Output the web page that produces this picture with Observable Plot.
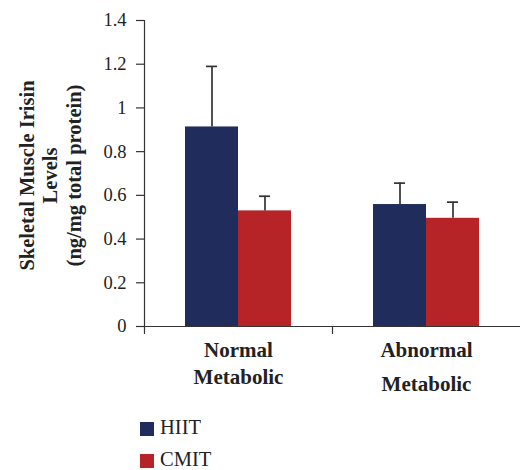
<!DOCTYPE html>
<html><head><meta charset="utf-8">
<script src="https://cdn.jsdelivr.net/npm/d3@7"></script>
<script src="https://cdn.jsdelivr.net/npm/@observablehq/plot@0.6"></script>
<style>
body{margin:0;background:#fff;font-family:"Liberation Serif","Times New Roman",serif}
#legend{margin-left:140px;margin-top:13px}
.item{display:flex;align-items:center;height:32px;font-size:20.5px;color:#222}
.item span{display:inline-block;position:relative;top:-1px;line-height:0.85}
.sw{width:14px;height:14px;margin-right:6px}
</style></head><body><div id="chart"></div><div id="legend"></div>
<script>
const categories = ["Normal", "Abnormal"];
const labelLine1 = ["Normal", "Abnormal"];
const labelLine2 = ["Metabolic", "Metabolic"];
const series = ["HIIT", "CMIT"];
const hiitMean = [0.913, 0.558];
const hiitErr = [0.277, 0.098];
const cmitMean = [0.529, 0.495];
const cmitErr = [0.067, 0.074];
const yTicks = [0, 0.2, 0.4, 0.6, 0.8, 1, 1.2, 1.4];
const yLabel = "Skeletal Muscle Irisin\nLevels\n(ng/mg total protein)";
const colors = ["#1f2c5c", "#b72427"];

const rows = [];
categories.forEach((c, i) => {
  rows.push({cat: c, series: "HIIT", mean: hiitMean[i], err: hiitErr[i]});
  rows.push({cat: c, series: "CMIT", mean: cmitMean[i], err: cmitErr[i]});
});
const labels = categories.map((c, i) => ({cat: c, l1: labelLine1[i], l2: labelLine2[i]}));

const W = 520, H = 400, ML = 144, MR = 0, MT = 20, MB = 74;
const half = (W - ML - MR) / categories.length / 2;
const ink = "#333";
const serif = '"Liberation Serif","Times New Roman",serif';

const chart = Plot.plot({
  width: W, height: H, marginLeft: ML, marginRight: MR, marginTop: MT, marginBottom: MB,
  style: {fontFamily: serif, color: "#222", background: "#fff", overflow: "visible"},
  fx: {domain: categories, padding: 0, axis: null, label: null},
  x: {domain: series, paddingInner: 0, paddingOuter: 0.75, axis: null},
  y: {domain: [0, 1.4], axis: null},
  color: {domain: series, range: colors},
  marks: [
    Plot.barY(rows, {fx: "cat", x: "series", y: "mean", fill: "series"}),
    Plot.ruleX(rows, {fx: "cat", x: "series", y1: "mean", y2: d => d.mean + d.err, stroke: ink, strokeWidth: 1.7}),
    Plot.tickY(rows, {fx: "cat", x: "series", y: d => d.mean + d.err, stroke: ink, strokeWidth: 1.7, insetLeft: 21, insetRight: 21}),
    Plot.ruleY([0], {stroke: ink, strokeWidth: 1.2}),
    Plot.ruleX([yTicks[yTicks.length - 1]], {fx: () => categories[0], x: null, y1: 0, y2: d => d, dx: -half, stroke: ink, strokeWidth: 1.2}),
    Plot.axisY({ticks: yTicks, tickFormat: d3.format("~g"), tickSize: 8, tickPadding: 10, fontSize: 18.5, fontFamily: serif, label: null, stroke: ink, strokeWidth: 1.2}),
    Plot.axisFx({anchor: "bottom", tickSize: 8, tickFormat: () => "", label: null, dx: -half, stroke: ink, strokeWidth: 1.2}),
    Plot.text([yLabel], {fx: () => categories[0], frameAnchor: "left", textAnchor: "middle", rotate: -90, dx: -127.5, dy: 2, lineAnchor: "top", lineHeight: 1.15, fontSize: 20.5, fontWeight: "bold", fontFamily: serif, fill: "#222", text: d => d}),
    Plot.text(labels, {fx: "cat", frameAnchor: "bottom", lineAnchor: "bottom", dy: 30.5, text: "l1", fontSize: 21, fontWeight: "bold", fontFamily: serif, fill: "#222"}),
    Plot.text(labels.filter(d => d.cat === categories[0]), {fx: "cat", frameAnchor: "bottom", lineAnchor: "bottom", dy: 57, text: "l2", fontSize: 21, fontWeight: "bold", fontFamily: serif, fill: "#222"}),
    Plot.text(labels.filter(d => d.cat === categories[1]), {fx: "cat", frameAnchor: "bottom", lineAnchor: "bottom", dy: 64, text: "l2", fontSize: 21, fontWeight: "bold", fontFamily: serif, fill: "#222"})
  ]
});
document.getElementById("chart").appendChild(chart);

const legend = d3.select("#legend");
series.forEach((s, i) => {
  const it = legend.append("div").attr("class", "item");
  it.append("div").attr("class", "sw").style("background", colors[i]);
  it.append("span").text(s);
});
</script>
</body></html>
